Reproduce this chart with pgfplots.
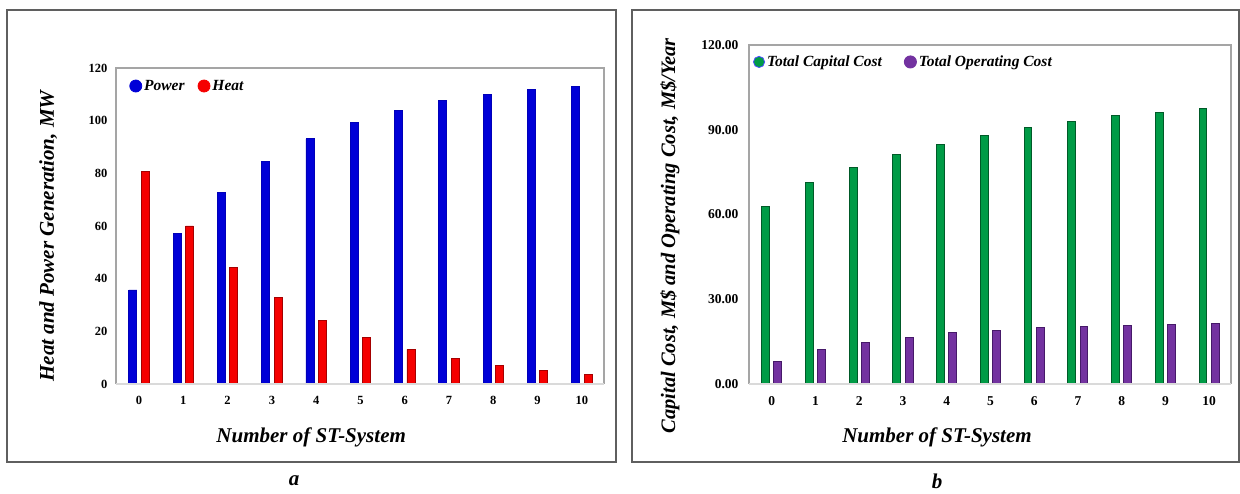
\documentclass[border=0pt]{standalone}
\usepackage{pgfplots}
\pgfplotsset{compat=1.18}
\usepackage{fontspec}
\setmainfont{Liberation Serif}

\definecolor{powerblue}{RGB}{0,0,215}
\definecolor{powerdark}{RGB}{0,0,185}
\definecolor{heatred}{RGB}{245,0,0}
\definecolor{heatdark}{RGB}{165,0,0}
\definecolor{capgreen}{RGB}{0,155,70}
\definecolor{capdark}{RGB}{0,90,40}
\definecolor{oppurple}{RGB}{115,50,160}
\definecolor{opdark}{RGB}{70,25,105}
\definecolor{framegray}{RGB}{95,95,95}
\definecolor{axisgray}{RGB}{165,165,165}
\definecolor{basegray}{RGB}{218,218,218}

\pgfplotsset{
  panel/.style={
    scale only axis,
    anchor=south west,
    clip=false,
    ybar, bar width=0.18,
    xmin=-0.52, xmax=10.5,
    ymin=0, ymax=120,
    xtick={0,...,10},
    major tick length=0pt,
    axis line style={draw=none},
    tick label style={/pgf/number format/assume math mode=true},
    xticklabel style={yshift=-9pt},
    label style={font=\fontsize{21}{24}\selectfont\bfseries\itshape},
    legend style={draw=none, fill=none, inner sep=0pt,
      font=\fontsize{15.5}{17}\selectfont\bfseries\itshape,
      legend columns=2, anchor=west},
    legend cell align=left,
  },
}

\newcommand{\axisframe}{%
  \draw[axisgray, line width=1.6pt] (rel axis cs:0,0) -- (rel axis cs:0,1)
     -- (rel axis cs:1,1) -- (rel axis cs:1,0);
  \draw[basegray, line width=1.6pt] (rel axis cs:0,0) -- (rel axis cs:1,0);
}

\begin{document}
\begin{tikzpicture}
\path[use as bounding box] (0pt,0pt) rectangle (1240pt,494pt);

% outer frames of the two panels
\draw[framegray, line width=1.3pt] (7pt,32pt) rectangle (616pt,484pt);
\draw[framegray, line width=1.3pt] (632pt,32pt) rectangle (1239pt,484pt);

% ---------- panel a: heat and power generation ----------
\begin{axis}[panel,
  at={(116pt,110pt)}, width=488pt, height=316pt,
  ytick={0,20,...,120},
  tick label style={font=\fontsize{12.5}{14}\selectfont\bfseries},
  yticklabel style={xshift=-5pt},
  xlabel={Number of ST-System},
  ylabel={Heat and Power Generation, MW},
  xlabel style={at={(axis description cs:0.40,-0.168)}, anchor=center},
  ylabel style={at={(axis description cs:-0.139,0.468)}, anchor=center, rotate=0},
  legend style={at={(axis description cs:0.027,0.943)},
    /tikz/every even column/.append style={column sep=11pt}},
]
\addplot[fill=powerblue, draw=powerdark, line width=0.8pt, bar shift=-0.14,
  legend image code/.code={\fill[powerblue] (6pt,0pt) circle (6pt);}]
  coordinates {(0,35.7) (1,57.1) (2,72.9) (3,84.5) (4,93.1) (5,99.2)
               (6,104.0) (7,107.6) (8,110.0) (9,111.9) (10,113.1)};
\addlegendentry{Power}
\addplot[fill=heatred, draw=heatdark, line width=0.8pt, bar shift=0.14,
  legend image code/.code={\fill[heatred] (6pt,0pt) circle (6pt);}]
  coordinates {(0,80.8) (1,60.0) (2,44.3) (3,32.7) (4,24.1) (5,17.8)
               (6,13.1) (7,9.6) (8,7.1) (9,5.3) (10,3.7)};
\addlegendentry{Heat}
\axisframe
\end{axis}

% ---------- panel b: capital and operating cost ----------
\begin{axis}[panel,
  at={(749pt,110pt)}, width=482pt, height=339pt,
  ytick={0,30,...,120},
  tick label style={font=\fontsize{13.5}{15}\selectfont\bfseries},
  yticklabel style={xshift=-7pt, /pgf/number format/fixed,
    /pgf/number format/fixed zerofill, /pgf/number format/precision=2},
  xlabel={Number of ST-System},
  ylabel={Capital Cost, M\$ and Operating Cost, M\$/Year},
  xlabel style={at={(axis description cs:0.39,-0.156)}, anchor=center},
  ylabel style={at={(axis description cs:-0.164,0.437)}, anchor=center, rotate=0,
    font=\fontsize{20.5}{24}\selectfont\bfseries\itshape},
  legend style={at={(axis description cs:0.008,0.95)},
    /tikz/every even column/.append style={column sep=20pt}},
]
\addplot[fill=capgreen, draw=capdark, line width=1pt, bar shift=-0.14,
  legend image code/.code={\filldraw[fill=capgreen, draw=blue!70, line width=0.8pt] (6pt,0pt) circle (5.6pt);}]
  coordinates {(0,63.0) (1,71.3) (2,76.7) (3,81.2) (4,84.9) (5,88.1)
               (6,90.7) (7,92.9) (8,94.9) (9,96.2) (10,97.6)};
\addlegendentry{Total Capital Cost}
\addplot[fill=oppurple, draw=opdark, line width=1pt, bar shift=0.14,
  legend image code/.code={\fill[oppurple] (6pt,0pt) circle (6pt);}]
  coordinates {(0,7.8) (1,12.2) (2,14.8) (3,16.5) (4,18.1) (5,19.0)
               (6,19.9) (7,20.3) (8,20.7) (9,21.0) (10,21.3)};
\addlegendentry{Total Operating Cost}
\axisframe
\end{axis}

% sub-figure letters
\node[font=\fontsize{21}{24}\selectfont\bfseries\itshape] at (294pt,13pt) {a};
\node[font=\fontsize{21}{24}\selectfont\bfseries\itshape] at (937pt,13pt) {b};
\end{tikzpicture}
\end{document}
